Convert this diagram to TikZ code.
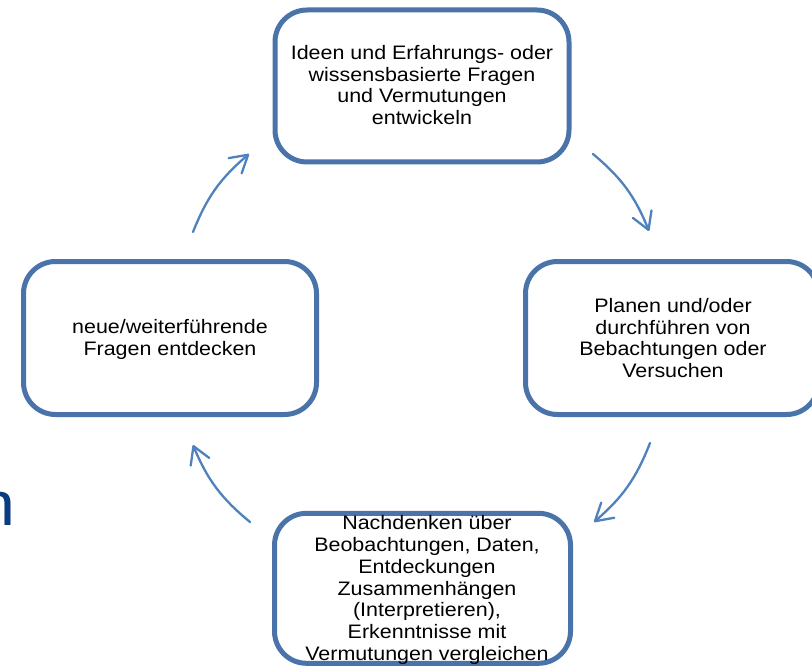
\documentclass[tikz,border=0pt]{standalone}
\usepackage{fontspec}
\setmainfont{Liberation Sans}[FakeStretch=1.1]
\usetikzlibrary{arrows.meta}
\definecolor{boxblue}{HTML}{4A73AA}
\definecolor{arrblue}{HTML}{4F81BD}
\definecolor{nblue}{HTML}{0B3C7E}
\tikzset{
  stepbox/.style={draw=boxblue, line width=5pt, rounded corners=32pt, fill=white, inner sep=0pt},
  boxtext/.style={align=center, inner sep=0pt, font=\fontsize{19.5}{21.7}\selectfont, text=black},
  cyclearrow/.style={draw=arrblue, line width=2.3pt, line cap=round, bend left=14,
    -{Straight Barb[length=17pt,width=20pt,line cap=round,line join=round]}}
}
\begin{document}
\begin{tikzpicture}[x=1pt,y=-1pt]
\useasboundingbox (0,0) rectangle (812,666);
\clip (0,0) rectangle (812,666);

% boxes
\node[stepbox, minimum width=294pt, minimum height=152pt] (top) at (422,86) {};
\node[stepbox, minimum width=293pt, minimum height=153pt] (left) at (170,338) {};
\node[stepbox, minimum width=293pt, minimum height=153pt] (right) at (672,338) {};
\node[stepbox, minimum width=296pt, minimum height=150pt] (bottom) at (422.5,588.3) {};

% texts
\node[boxtext] (ttop) at (422,85) {Ideen und Erfahrungs- oder\\wissensbasierte Fragen\\und Vermutungen\\entwickeln};
\node[boxtext] (tleft) at (170,339.5) {neue/weiterführende\\Fragen entdecken};
\node[boxtext] (tright) at (673,338) {Planen und/oder\\durchführen von\\Bebachtungen oder\\Versuchen};
\node[boxtext] (tbottom) at (427,590) {Nachdenken über\\Beobachtungen, Daten,\\Entdeckungen\\Zusammenhängen\\(Interpretieren),\\Erkenntnisse mit\\Vermutungen vergleichen};

% partial letter at left edge
\node[anchor=base west, inner sep=0pt, font=\fontsize{62}{62}\selectfont, text=nblue] (nletter) at (-23,525) {n};

% arrow end points
\coordinate (a1s) at (593,154);
\coordinate (a1e) at (649,231);
\coordinate (a2s) at (650,443);
\coordinate (a2e) at (594,522);
\coordinate (a3s) at (250,522);
\coordinate (a3e) at (193,445);
\coordinate (a4s) at (193,232);
\coordinate (a4e) at (249,154);

\draw[cyclearrow] (a1s) to (a1e);
\draw[cyclearrow] (a2s) to (a2e);
\draw[cyclearrow] (a3s) to (a3e);
\draw[cyclearrow] (a4s) to (a4e);
\end{tikzpicture}
\end{document}
